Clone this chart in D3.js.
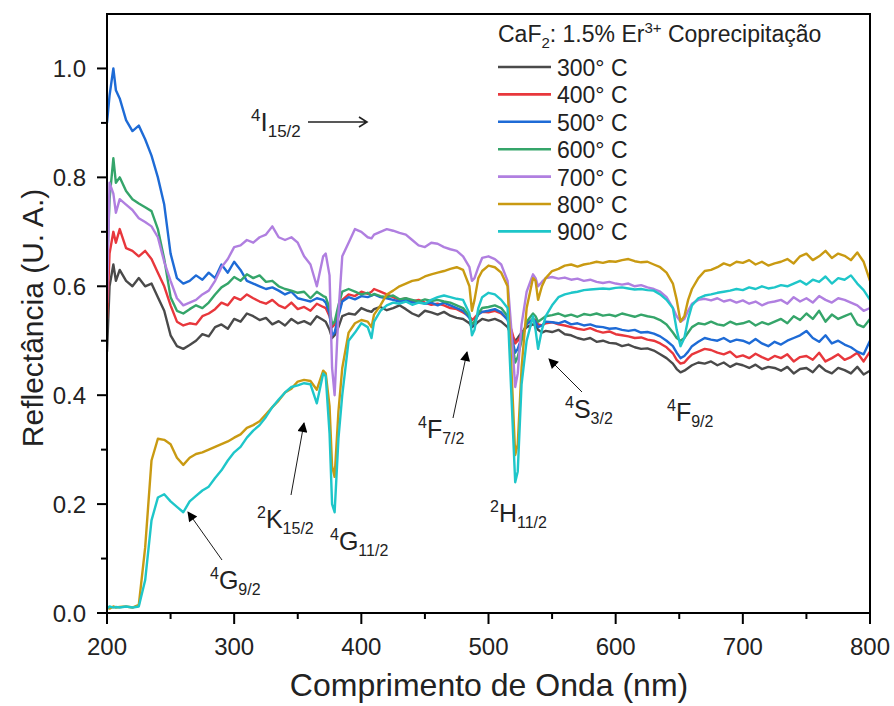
<!DOCTYPE html>
<html>
<head>
<meta charset="utf-8">
<script src="https://cdn.jsdelivr.net/npm/d3@7"></script>
<style>
  body { margin: 0; background: #fff; }
  svg { font-family: Arial, "Liberation Sans", sans-serif; }
</style>
</head>
<body>
<svg id="chart" width="894" height="706"></svg>
<script>
// wavelength grid (nm), 10 per line
var wavelength = [
  200,202,205,207,210,215,220,225,230,235,
  240,245,250,255,260,265,270,275,280,285,
  290,295,300,305,310,315,320,325,330,335,
  340,345,350,355,360,365,370,372,375,377,
  379,382,385,390,395,400,405,408,410,415,
  420,425,430,435,440,445,450,455,460,465,
  470,475,480,485,487,489,492,495,500,505,
  510,515,518,521,523,526,530,535,537,539,
  542,545,550,555,560,565,570,575,580,585,
  590,595,600,605,610,615,620,625,630,635,
  640,645,648,651,654,657,660,665,670,675,
  680,685,690,695,700,705,710,715,720,725,
  730,735,740,745,750,755,760,765,770,775,
  780,785,790,795,800
];

var r300 = [
  0.48,0.60,0.64,0.61,0.63,0.61,0.60,0.615,0.60,0.605,
  0.58,0.555,0.51,0.49,0.485,0.492,0.50,0.512,0.508,0.525,
  0.53,0.522,0.54,0.535,0.55,0.545,0.538,0.542,0.53,0.536,
  0.528,0.54,0.532,0.536,0.53,0.545,0.538,0.535,0.52,0.505,
  0.51,0.525,0.545,0.55,0.548,0.56,0.555,0.553,0.558,0.562,
  0.556,0.56,0.565,0.558,0.55,0.545,0.555,0.552,0.548,0.553,
  0.546,0.542,0.54,0.532,0.525,0.528,0.535,0.54,0.537,0.54,
  0.535,0.525,0.51,0.50,0.505,0.515,0.525,0.53,0.528,0.52,
  0.515,0.518,0.516,0.52,0.512,0.51,0.505,0.502,0.505,0.498,
  0.50,0.496,0.495,0.49,0.493,0.488,0.485,0.486,0.482,0.475,
  0.468,0.458,0.448,0.442,0.445,0.45,0.455,0.46,0.458,0.462,
  0.455,0.46,0.452,0.458,0.455,0.45,0.456,0.448,0.452,0.45,
  0.445,0.452,0.44,0.448,0.45,0.442,0.455,0.445,0.44,0.45,
  0.446,0.44,0.452,0.438,0.445
];
var r400 = [
  0.54,0.66,0.70,0.68,0.705,0.67,0.665,0.655,0.665,0.65,
  0.625,0.60,0.565,0.535,0.528,0.532,0.53,0.545,0.55,0.558,
  0.57,0.565,0.58,0.575,0.585,0.578,0.572,0.568,0.575,0.565,
  0.56,0.57,0.558,0.562,0.555,0.568,0.562,0.56,0.545,0.525,
  0.53,0.55,0.575,0.585,0.582,0.59,0.586,0.59,0.595,0.59,
  0.585,0.58,0.575,0.578,0.572,0.575,0.57,0.566,0.568,0.565,
  0.56,0.558,0.552,0.545,0.538,0.542,0.55,0.553,0.552,0.555,
  0.55,0.54,0.52,0.495,0.50,0.51,0.53,0.54,0.538,0.53,
  0.528,0.532,0.534,0.53,0.528,0.525,0.522,0.52,0.523,0.518,
  0.515,0.517,0.512,0.51,0.508,0.505,0.506,0.502,0.50,0.495,
  0.488,0.477,0.465,0.458,0.46,0.468,0.475,0.48,0.485,0.483,
  0.478,0.475,0.48,0.47,0.473,0.468,0.476,0.47,0.465,0.472,
  0.468,0.475,0.462,0.47,0.472,0.465,0.478,0.462,0.468,0.475,
  0.465,0.47,0.478,0.462,0.48
];
var r500 = [
  0.90,0.95,1.00,0.96,0.945,0.905,0.885,0.895,0.87,0.84,
  0.80,0.75,0.66,0.615,0.605,0.61,0.62,0.612,0.625,0.615,
  0.64,0.625,0.645,0.63,0.61,0.605,0.60,0.595,0.598,0.592,
  0.585,0.59,0.578,0.575,0.572,0.578,0.575,0.57,0.55,0.51,
  0.515,0.545,0.572,0.58,0.576,0.582,0.58,0.583,0.585,0.58,
  0.578,0.575,0.572,0.575,0.57,0.572,0.568,0.57,0.565,0.57,
  0.565,0.56,0.555,0.542,0.528,0.535,0.548,0.553,0.555,0.558,
  0.552,0.538,0.51,0.478,0.485,0.505,0.53,0.54,0.535,0.525,
  0.528,0.535,0.534,0.532,0.536,0.53,0.532,0.528,0.53,0.526,
  0.525,0.522,0.523,0.52,0.518,0.52,0.515,0.516,0.513,0.508,
  0.50,0.49,0.478,0.468,0.472,0.48,0.49,0.498,0.505,0.502,
  0.50,0.505,0.498,0.502,0.50,0.495,0.503,0.495,0.49,0.498,
  0.493,0.50,0.505,0.51,0.518,0.505,0.498,0.51,0.495,0.50,
  0.493,0.488,0.48,0.475,0.50
];
var r600 = [
  0.63,0.76,0.835,0.79,0.80,0.775,0.76,0.752,0.745,0.738,
  0.705,0.65,0.58,0.555,0.55,0.558,0.565,0.56,0.57,0.585,
  0.598,0.605,0.617,0.61,0.622,0.615,0.62,0.608,0.61,0.60,
  0.595,0.592,0.588,0.59,0.578,0.59,0.582,0.58,0.56,0.53,
  0.535,0.565,0.59,0.595,0.59,0.585,0.588,0.583,0.586,0.582,
  0.58,0.583,0.576,0.578,0.575,0.572,0.576,0.573,0.575,0.572,
  0.57,0.565,0.56,0.545,0.53,0.535,0.55,0.56,0.562,0.565,
  0.56,0.545,0.505,0.46,0.47,0.50,0.535,0.55,0.545,0.535,
  0.54,0.545,0.547,0.55,0.545,0.548,0.544,0.549,0.547,0.55,
  0.546,0.548,0.545,0.55,0.547,0.544,0.548,0.545,0.543,0.538,
  0.53,0.515,0.505,0.50,0.505,0.515,0.525,0.532,0.53,0.535,
  0.53,0.528,0.535,0.53,0.532,0.536,0.528,0.534,0.53,0.535,
  0.54,0.532,0.545,0.538,0.55,0.54,0.555,0.535,0.548,0.54,
  0.545,0.55,0.53,0.525,0.54
];
var r700 = [
  0.57,0.79,0.77,0.735,0.76,0.75,0.74,0.725,0.718,0.71,
  0.69,0.645,0.61,0.578,0.565,0.57,0.575,0.585,0.592,0.61,
  0.635,0.65,0.672,0.675,0.685,0.68,0.69,0.695,0.71,0.69,
  0.685,0.69,0.68,0.655,0.64,0.60,0.655,0.66,0.62,0.45,
  0.40,0.55,0.655,0.68,0.705,0.70,0.69,0.688,0.695,0.70,
  0.705,0.702,0.698,0.695,0.685,0.675,0.672,0.68,0.678,0.672,
  0.668,0.665,0.655,0.635,0.61,0.615,0.635,0.652,0.655,0.65,
  0.64,0.61,0.52,0.415,0.44,0.53,0.59,0.622,0.615,0.60,
  0.608,0.615,0.617,0.614,0.616,0.612,0.614,0.61,0.612,0.608,
  0.606,0.608,0.605,0.603,0.605,0.60,0.602,0.598,0.595,0.59,
  0.58,0.56,0.545,0.535,0.54,0.555,0.568,0.575,0.577,0.574,
  0.578,0.572,0.575,0.57,0.574,0.568,0.572,0.565,0.57,0.572,
  0.575,0.568,0.58,0.572,0.578,0.57,0.582,0.575,0.57,0.578,
  0.575,0.57,0.565,0.555,0.56
];
var r800 = [
  0.01,0.008,0.012,0.01,0.011,0.012,0.01,0.015,0.12,0.28,
  0.32,0.318,0.31,0.285,0.272,0.285,0.292,0.295,0.30,0.305,
  0.31,0.315,0.322,0.328,0.34,0.345,0.352,0.365,0.378,0.39,
  0.405,0.412,0.425,0.428,0.426,0.41,0.445,0.44,0.38,0.27,
  0.25,0.37,0.45,0.515,0.532,0.538,0.535,0.525,0.548,0.565,
  0.585,0.592,0.60,0.605,0.61,0.612,0.618,0.622,0.625,0.628,
  0.632,0.635,0.63,0.60,0.555,0.575,0.615,0.628,0.638,0.635,
  0.625,0.60,0.45,0.29,0.31,0.45,0.56,0.615,0.61,0.575,
  0.60,0.615,0.628,0.632,0.638,0.64,0.636,0.64,0.642,0.645,
  0.643,0.646,0.645,0.648,0.65,0.646,0.644,0.645,0.64,0.635,
  0.625,0.605,0.575,0.535,0.545,0.575,0.595,0.615,0.628,0.63,
  0.635,0.642,0.638,0.645,0.643,0.648,0.64,0.645,0.638,0.642,
  0.645,0.65,0.642,0.655,0.66,0.648,0.655,0.665,0.652,0.66,
  0.656,0.648,0.662,0.645,0.61
];
var r900 = [
  0.008,0.012,0.01,0.011,0.01,0.012,0.01,0.012,0.06,0.17,
  0.212,0.218,0.205,0.195,0.185,0.205,0.215,0.225,0.232,0.248,
  0.262,0.28,0.295,0.305,0.322,0.335,0.345,0.36,0.378,0.392,
  0.405,0.415,0.418,0.422,0.42,0.385,0.44,0.435,0.33,0.20,
  0.185,0.32,0.40,0.50,0.515,0.532,0.525,0.505,0.535,0.555,
  0.565,0.57,0.568,0.572,0.566,0.57,0.568,0.575,0.58,0.583,
  0.58,0.577,0.575,0.55,0.51,0.52,0.56,0.58,0.588,0.585,
  0.575,0.56,0.40,0.24,0.26,0.42,0.50,0.545,0.52,0.485,
  0.52,0.545,0.565,0.58,0.585,0.588,0.59,0.593,0.594,0.595,
  0.596,0.595,0.597,0.598,0.596,0.594,0.595,0.593,0.592,0.585,
  0.575,0.56,0.52,0.49,0.505,0.54,0.565,0.578,0.583,0.585,
  0.588,0.59,0.592,0.595,0.593,0.598,0.595,0.60,0.596,0.598,
  0.602,0.60,0.605,0.61,0.603,0.612,0.608,0.618,0.605,0.615,
  0.612,0.62,0.605,0.593,0.575
];

var seriesNames = ["300° C", "400° C", "500° C", "600° C", "700° C", "800° C", "900° C"];
var seriesValues = [r300, r400, r500, r600, r700, r800, r900];
var seriesColors = ["#4a4a4a", "#e8373c", "#1e6bd6", "#35a56a", "#b07fe0", "#c99a12", "#1ec6c9"];

var xTicks = [200, 300, 400, 500, 600, 700, 800];
var xMinor = [250, 350, 450, 550, 650, 750];
var yTicks = [0.0, 0.2, 0.4, 0.6, 0.8, 1.0];
var yMinor = [0.1, 0.3, 0.5, 0.7, 0.9];

// transition labels (term symbol pieces + text position)
var labels = [
  { sup: "4", main: "G", sub: "9/2", x: 210, y: 589 },
  { sup: "2", main: "K", sub: "15/2", x: 257, y: 528 },
  { sup: "4", main: "G", sub: "11/2", x: 330, y: 550 },
  { sup: "4", main: "F", sub: "7/2", x: 418, y: 438 },
  { sup: "2", main: "H", sub: "11/2", x: 490, y: 522 },
  { sup: "4", main: "S", sub: "3/2", x: 565, y: 418 },
  { sup: "4", main: "F", sub: "9/2", x: 667, y: 421 }
];
// pointer arrows: x1, y1, x2 (head), y2 (head)
var arrows = [
  [222, 560, 188, 512],
  [291, 495, 304, 423],
  [453, 418, 467, 352],
  [582, 392, 549, 359]
];

var svg = d3.select("#chart");
var margin = { left: 107, right: 24, top: 14, bottom: 93 };
var width = 894 - margin.left - margin.right;
var height = 706 - margin.top - margin.bottom;

var x = d3.scaleLinear().domain([200, 800]).range([0, width]);
var y = d3.scaleLinear().domain([0, 1.1]).range([height, 0]);

var g = svg.append("g").attr("transform", "translate(" + margin.left + "," + margin.top + ")");

svg.append("defs").append("marker")
  .attr("id", "head")
  .attr("viewBox", "0 0 10 10")
  .attr("refX", 9).attr("refY", 5)
  .attr("markerWidth", 13).attr("markerHeight", 10)
  .attr("markerUnits", "userSpaceOnUse")
  .attr("orient", "auto")
  .append("path").attr("d", "M0,0 L10,5 L0,10 z").attr("fill", "#000");

g.append("clipPath").attr("id", "clip")
  .append("rect").attr("width", width).attr("height", height);

// curves
var line = d3.line()
  .x(function (d, i) { return x(wavelength[i]); })
  .y(function (d) { return y(d); });

g.append("g").attr("clip-path", "url(#clip)")
  .selectAll("path")
  .data(seriesValues)
  .enter().append("path")
  .attr("d", line)
  .attr("fill", "none")
  .attr("stroke", function (d, i) { return seriesColors[i]; })
  .attr("stroke-width", 2.4)
  .attr("stroke-linejoin", "round");

// ticks, pointing outward
var ticks = g.append("g").attr("stroke", "#000").attr("stroke-width", 2);
ticks.selectAll(".xt")
  .data(xTicks.map(function (d) { return [d, 11]; }).concat(xMinor.map(function (d) { return [d, 6]; })))
  .enter().append("line")
  .attr("x1", function (d) { return x(d[0]); })
  .attr("x2", function (d) { return x(d[0]); })
  .attr("y1", height)
  .attr("y2", function (d) { return height + d[1]; });
ticks.selectAll(".yt")
  .data(yTicks.map(function (d) { return [d, 10]; }).concat(yMinor.map(function (d) { return [d, 6]; })))
  .enter().append("line")
  .attr("y1", function (d) { return y(d[0]); })
  .attr("y2", function (d) { return y(d[0]); })
  .attr("x1", 0)
  .attr("x2", function (d) { return -d[1]; });

g.selectAll(".xl")
  .data(xTicks)
  .enter().append("text")
  .attr("x", function (d) { return x(d); })
  .attr("y", height + 42)
  .attr("text-anchor", "middle")
  .style("font-size", "24px").attr("fill", "#222")
  .text(d3.format("d"));
g.selectAll(".yl")
  .data(yTicks)
  .enter().append("text")
  .attr("x", -21)
  .attr("y", function (d) { return y(d) + 8.5; })
  .attr("text-anchor", "end")
  .style("font-size", "24px").attr("fill", "#222")
  .text(d3.format(".1f"));

// frame
g.append("rect")
  .attr("width", width).attr("height", height)
  .attr("fill", "none").attr("stroke", "#000").attr("stroke-width", 2);

// axis titles
svg.append("text")
  .attr("x", 489).attr("y", 696)
  .attr("text-anchor", "middle")
  .style("font-size", "32px").attr("fill", "#222")
  .text("Comprimento de Onda (nm)");

svg.append("text")
  .attr("transform", "translate(43,318) rotate(-90)")
  .attr("text-anchor", "middle")
  .style("font-size", "30px").attr("fill", "#222")
  .text("Reflectância (U. A.)");

// legend
var legend = svg.append("g");
var lt = legend.append("text").attr("x", 498).attr("y", 42)
  .style("font-size", "23px").attr("fill", "#222");
lt.append("tspan").text("CaF");
lt.append("tspan").attr("dy", 6).style("font-size", "15px").text("2");
lt.append("tspan").attr("dy", -6).text(": 1.5% Er");
lt.append("tspan").attr("dy", -9).style("font-size", "15px").text("3+");
lt.append("tspan").attr("dy", 9).text(" Coprecipitação");

var item = legend.selectAll(".item")
  .data(seriesNames)
  .enter().append("g")
  .attr("transform", function (d, i) { return "translate(0," + (67 + i * 27.4) + ")"; });
item.append("line")
  .attr("x1", 498).attr("x2", 551)
  .attr("stroke", function (d, i) { return seriesColors[i]; })
  .attr("stroke-width", 2.6);
item.append("text")
  .attr("x", 557).attr("y", 9)
  .style("font-size", "23px").attr("fill", "#222")
  .text(function (d) { return d; });

// transition labels
function termLabel(sel, d, big, small) {
  var t = sel.append("text").attr("x", d.x).attr("y", d.y)
    .style("font-size", big + "px").attr("fill", "#222");
  t.append("tspan").attr("dy", -10).style("font-size", small + "px").text(d.sup);
  t.append("tspan").attr("dy", 10).text(d.main);
  t.append("tspan").attr("dy", 6).style("font-size", small + "px").text(d.sub);
  return t;
}
labels.forEach(function (d) { termLabel(svg, d, 25, 16); });

termLabel(svg, { sup: "4", main: "I", sub: "15/2", x: 251, y: 131 }, 26, 17);
svg.append("path")
  .attr("d", "M308,122 H367 M359,117 L367,122 L359,127")
  .attr("fill", "none").attr("stroke", "#222").attr("stroke-width", 1.6);

svg.selectAll(".arrow")
  .data(arrows)
  .enter().append("line")
  .attr("x1", function (d) { return d[0]; })
  .attr("y1", function (d) { return d[1]; })
  .attr("x2", function (d) { return d[2]; })
  .attr("y2", function (d) { return d[3]; })
  .attr("stroke", "#000").attr("stroke-width", 0.9)
  .attr("marker-end", "url(#head)");
</script>
</body>
</html>
